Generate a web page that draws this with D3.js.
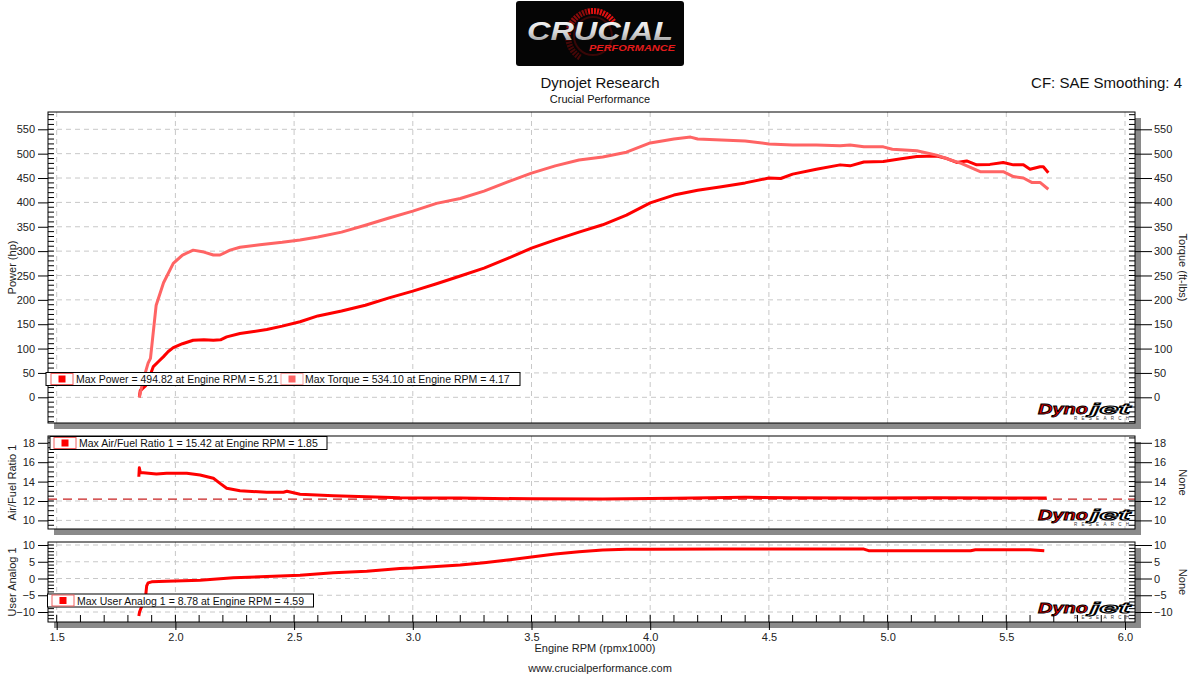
<!DOCTYPE html>
<html><head><meta charset="utf-8">
<script src="https://cdn.jsdelivr.net/npm/d3@7"></script>
<style>body{margin:0;background:#fff;}svg{display:block;font-family:"Liberation Sans",Arial,sans-serif;}</style>
</head><body><svg id="c" width="1200" height="675"></svg>
<script>
// ---------------- DATA ----------------
const rpmTicks = [1.5,2.0,2.5,3.0,3.5,4.0,4.5,5.0,5.5,6.0];
const hpTicks = [0,50,100,150,200,250,300,350,400,450,500,550];
const afrTicks = [10,12,14,16,18];
const analogTicks = [-10,-5,0,5,10];
const afrTarget = 12.2;

const powerRpm = [1.848,1.852,1.86,1.875,1.89,1.907,1.93,1.949,1.97,1.991,2.03,2.075,2.12,2.16,2.19,2.216,2.272,2.33,2.385,2.45,2.525,2.6,2.7,2.8,2.9,3.0,3.1,3.2,3.3,3.4,3.5,3.6,3.7,3.8,3.9,4.0,4.1,4.2,4.3,4.4,4.5,4.55,4.6,4.7,4.8,4.842,4.9,4.982,5.05,5.123,5.207,5.25,5.291,5.333,5.375,5.431,5.487,5.53,5.572,5.6,5.642,5.656,5.677];
const powerHp  = [0,14,17,24,40,63,74,83,94,102,110,117,118,117,118,124,131,135,139,146,155,167,177,189,204,218,233,249,265,285,306,323,339,354,374,399,415,425,432,440,450,449,458,468,477,475,483,484,489,494,495,490,482,485,477,478,482,477,477,468,473,473,461];

const torqueRpm = [1.848,1.855,1.87,1.885,1.895,1.919,1.95,1.991,2.03,2.075,2.12,2.16,2.188,2.23,2.272,2.356,2.45,2.525,2.6,2.7,2.8,2.9,3.0,3.1,3.2,3.3,3.4,3.5,3.6,3.7,3.8,3.9,4.0,4.1,4.17,4.2,4.3,4.4,4.5,4.6,4.7,4.8,4.842,4.9,4.982,5.02,5.123,5.207,5.26,5.31,5.39,5.487,5.53,5.572,5.607,5.642,5.677];
const torqueFt  = [0,15,45,70,80,189,235,275,292,302,298,292,292,302,308,313,318,323,329,339,353,368,382,398,408,423,442,460,475,487,493,503,522,530,534,530,528,526,520,518,518,516,518,514,514,509,506,497,488,480,463,463,453,450,441,441,427];

const afrRpm = [1.846,1.848,1.852,1.865,1.92,1.963,2.048,2.104,2.16,2.188,2.216,2.272,2.385,2.455,2.47,2.525,2.665,2.806,2.946,3.2,3.5,3.8,4.1,4.4,4.6,4.9,5.2,5.5,5.67];
const afrVal = [14.5,15.42,14.95,14.92,14.78,14.86,14.86,14.68,14.34,13.82,13.31,13.06,12.9,12.9,13.0,12.69,12.55,12.44,12.34,12.3,12.22,12.2,12.28,12.38,12.34,12.32,12.34,12.32,12.3];

const analogRpm = [1.846,1.849,1.86,1.875,1.879,1.885,1.9,1.963,2.104,2.244,2.385,2.525,2.665,2.806,2.946,3.0,3.2,3.3,3.4,3.5,3.6,3.7,3.8,3.9,4.0,4.3,4.59,4.9,4.92,5.2,5.35,5.37,5.6,5.66];
const analogVal = [-11.2,-10,-8,-5,-2.2,-1.3,-1.0,-0.8,-0.5,0.2,0.6,1.0,1.7,2.2,3.0,3.1,4.0,4.7,5.5,6.4,7.3,8.0,8.5,8.7,8.75,8.77,8.78,8.78,8.3,8.3,8.3,8.6,8.6,8.3];

const legendTop = ["Max Power = 494.82 at Engine RPM = 5.21","Max Torque = 534.10 at Engine RPM = 4.17"];
const legendAfr = "Max Air/Fuel Ratio 1 = 15.42 at Engine RPM = 1.85";
const legendAnalog = "Max User Analog 1 = 8.78 at Engine RPM = 4.59";

// ---------------- LAYOUT ----------------
const svg = d3.select("#c");
const FL = 48, FR = 1135;
const x = d3.scaleLinear().domain([1.5,6.0]).range([56.7,1125]);
const C_POW = "#ff0000", C_TQ = "#ff6464", GRID="#c8c8c8", SHADOW="#8a8a8a";

const panels = [
  {top:112,bottom:423, y:d3.scaleLinear().domain([0,550]).range([397.3,129.3]), ticks:hpTicks, minor:10, lt:"Power (hp)", rt:"Torque (ft-lbs)"},
  {top:436,bottom:529, y:d3.scaleLinear().domain([10,18]).range([520.4,442.8]), ticks:afrTicks, minor:0.5, lt:"Air/Fuel Ratio 1", rt:"None"},
  {top:542,bottom:622, y:d3.scaleLinear().domain([-10,10]).range([612,545]), ticks:analogTicks, minor:1, lt:"User Analog 1", rt:"None"}
];

// header
const logo = svg.append("g");
logo.append("rect").attr("x",516).attr("y",1).attr("width",168).attr("height",65).attr("rx",3).attr("fill","#050505");
const arc = d3.arc().innerRadius(22).outerRadius(28);
for(let a=-2.6;a<=0.9;a+=0.12){
  logo.append("path").attr("d",arc({startAngle:a,endAngle:a+0.08})).attr("transform","translate(593,36)")
    .attr("fill", a>-0.3? "#e01010":"#8a0a0a").attr("opacity", a<-1.6?0.5:1);
}
logo.append("circle").attr("cx",593).attr("cy",36).attr("r",19).attr("fill","none").attr("stroke","#5a0808").attr("stroke-width",2).attr("opacity",0.6);
const defs = svg.append("defs");
const lg = defs.append("linearGradient").attr("id","silver").attr("x1",0).attr("y1",0).attr("x2",0).attr("y2",1);
lg.append("stop").attr("offset","0").attr("stop-color","#ffffff");
lg.append("stop").attr("offset","0.55").attr("stop-color","#d8d8d8");
lg.append("stop").attr("offset","1").attr("stop-color","#8c8c8c");
logo.append("text").attr("x",527).attr("y",40).attr("font-size",25).attr("font-weight","bold").attr("font-style","italic")
  .attr("textLength",146).attr("lengthAdjust","spacingAndGlyphs").attr("fill","url(#silver)").text("CRUCIAL");
logo.append("text").attr("x",589).attr("y",51).attr("font-size",9).attr("font-weight","bold").attr("font-style","italic")
  .attr("textLength",86).attr("lengthAdjust","spacingAndGlyphs").attr("fill","#e31b1b").text("PERFORMANCE");

svg.append("text").attr("x",600).attr("y",88).attr("text-anchor","middle").attr("font-size",15).attr("fill","#111").text("Dynojet Research");
svg.append("text").attr("x",600).attr("y",103).attr("text-anchor","middle").attr("font-size",11).attr("fill","#111").text("Crucial Performance");
svg.append("text").attr("x",1182).attr("y",88).attr("text-anchor","end").attr("font-size",15).attr("fill","#111").text("CF: SAE Smoothing: 4");

const series = [
  [{rpm:powerRpm, v:powerHp, c:C_POW},{rpm:torqueRpm, v:torqueFt, c:C_TQ}],
  [{rpm:afrRpm, v:afrVal, c:C_POW}],
  [{rpm:analogRpm, v:analogVal, c:C_POW}]
];

panels.forEach((p,i)=>{
  const g = svg.append("g");
  const h = p.bottom-p.top;
  g.append("rect").attr("x",FL+6).attr("y",p.top+6).attr("width",FR-FL).attr("height",h).attr("fill",SHADOW);
  g.append("rect").attr("x",FL).attr("y",p.top).attr("width",FR-FL).attr("height",h).attr("fill","#fff");
  const cid = "clip"+i;
  defs.append("clipPath").attr("id",cid).append("rect").attr("x",FL).attr("y",p.top).attr("width",FR-FL).attr("height",h);
  const inner = g.append("g").attr("clip-path",`url(#${cid})`);
  inner.selectAll(".hg").data(p.ticks).join("line").attr("x1",FL).attr("x2",FR).attr("y1",d=>p.y(d)).attr("y2",d=>p.y(d))
    .attr("stroke",GRID).attr("stroke-dasharray","5,4");
  inner.selectAll(".vg").data(rpmTicks).join("line").attr("y1",p.top).attr("y2",p.bottom).attr("x1",d=>x(d)).attr("x2",d=>x(d))
    .attr("stroke",GRID).attr("stroke-dasharray","5,4");
  if(i===1){
    inner.append("line").attr("x1",FL).attr("x2",FR).attr("y1",p.y(afrTarget)).attr("y2",p.y(afrTarget))
      .attr("stroke","#c82020").attr("stroke-width",1.3).attr("stroke-dasharray","9,6");
  }
  const ymin = p.y.invert(p.bottom), ymax = p.y.invert(p.top);
  const minors = d3.range(Math.ceil(ymin/p.minor)*p.minor, ymax, p.minor);
  g.selectAll(".ml").data(minors).join("line").attr("x1",FL).attr("x2",FL+6).attr("y1",d=>p.y(d)).attr("y2",d=>p.y(d)).attr("stroke","#000");
  g.selectAll(".mr").data(minors).join("line").attr("x1",FR-6).attr("x2",FR).attr("y1",d=>p.y(d)).attr("y2",d=>p.y(d)).attr("stroke","#000");
  series[i].forEach(s=>{
    const pts = s.rpm.map((r,k)=>[r,s.v[k]]);
    inner.append("path").datum(pts).attr("fill","none").attr("stroke",s.c).attr("stroke-width",3).attr("stroke-linejoin","round")
      .attr("d",d3.line().x(d=>x(d[0])).y(d=>p.y(d[1])));
  });
  g.append("rect").attr("x",FL).attr("y",p.top).attr("width",FR-FL).attr("height",h).attr("fill","none").attr("stroke","#000");
  const la = d3.axisLeft(p.y).tickValues(p.ticks).tickSize(10).tickPadding(3);
  const ga = g.append("g").attr("transform",`translate(${FL},0)`).call(la);
  const ra = d3.axisRight(p.y).tickValues(p.ticks).tickSize(17).tickPadding(2);
  const gr = g.append("g").attr("transform",`translate(${FR},0)`).call(ra);
  [ga,gr].forEach(a=>{a.select(".domain").remove(); a.selectAll("text").attr("font-size",11).attr("fill","#222").attr("font-family","Liberation Sans, Arial, sans-serif"); a.selectAll("line").attr("stroke","#000");});
  const cy = (p.top+p.bottom)/2;
  g.append("text").attr("transform",`translate(16,${cy}) rotate(-90)`).attr("text-anchor","middle").attr("font-size",11).attr("fill","#222").text(p.lt);
  g.append("text").attr("transform",`translate(1179,${cy}) rotate(90)`).attr("text-anchor","middle").attr("font-size",11).attr("fill","#222").text(p.rt);
  const lgG = g.append("g").attr("transform",`translate(1038,${p.bottom-9})`);
  lgG.append("text").attr("x",0).attr("y",0).attr("font-size",14).attr("font-weight","bold").attr("font-style","italic")
     .attr("textLength",50).attr("lengthAdjust","spacingAndGlyphs").attr("fill","#e00000").attr("stroke","#000").attr("stroke-width",0.8).text("Dyno");
  lgG.append("text").attr("x",52).attr("y",0).attr("font-size",14).attr("font-weight","bold").attr("font-style","italic")
     .attr("textLength",40).attr("lengthAdjust","spacingAndGlyphs").attr("fill","#fff").attr("stroke","#000").attr("stroke-width",1).text("jet");
  lgG.append("text").attr("x",36).attr("y",6).attr("font-size",4.5).attr("textLength",55).attr("fill","#333").text("RESEARCH");
});

// x axis
const xa = d3.axisBottom(x).tickValues(rpmTicks).tickSize(8).tickPadding(3).tickFormat(d3.format(".1f"));
const gx = svg.append("g").attr("transform",`translate(0,${panels[2].bottom})`).call(xa);
gx.select(".domain").remove();
gx.selectAll("text").attr("font-size",11).attr("fill","#222").attr("font-family","Liberation Sans, Arial, sans-serif");
gx.selectAll("line").attr("stroke","#000");
const pb = panels[2];
svg.append("g").selectAll("line").data(d3.range(1.5,6.05,0.1)).join("line")
  .attr("x1",d=>x(d)).attr("x2",d=>x(d)).attr("y1",pb.bottom-7).attr("y2",pb.bottom).attr("stroke","#000");
svg.append("text").attr("x",595).attr("y",652).attr("text-anchor","middle").attr("font-size",11).attr("fill","#222").text("Engine RPM (rpmx1000)");
svg.append("text").attr("x",600).attr("y",672).attr("text-anchor","middle").attr("font-size",11).attr("fill","#222").text("www.crucialperformance.com");

function legend(x0,y0,w,items){
  const g = svg.append("g");
  g.append("rect").attr("x",x0).attr("y",y0).attr("width",w).attr("height",13).attr("fill","#fff").attr("stroke","#000");
  items.forEach(it=>{
    g.append("rect").attr("x",it.ix).attr("y",y0+1).attr("width",22).attr("height",11).attr("fill","#fff").attr("stroke",it.border);
    g.append("rect").attr("x",it.ix+7.5).attr("y",y0+3).attr("width",7).attr("height",7).attr("fill",it.c);
    g.append("text").attr("x",it.tx).attr("y",y0+10.5).attr("font-size",10.5).attr("fill","#111").text(it.t);
  });
}
legend(46,372.5,474,[{ix:51,tx:76,c:C_POW,border:"#f06060",t:legendTop[0]},{ix:281,tx:305,c:C_TQ,border:"#f5a0a0",t:legendTop[1]}]);
legend(50,436.5,277,[{ix:54,tx:79,c:C_POW,border:"#f06060",t:legendAfr}]);
legend(47.5,594,266,[{ix:52,tx:77,c:C_POW,border:"#f06060",t:legendAnalog}]);
</script></body></html>
